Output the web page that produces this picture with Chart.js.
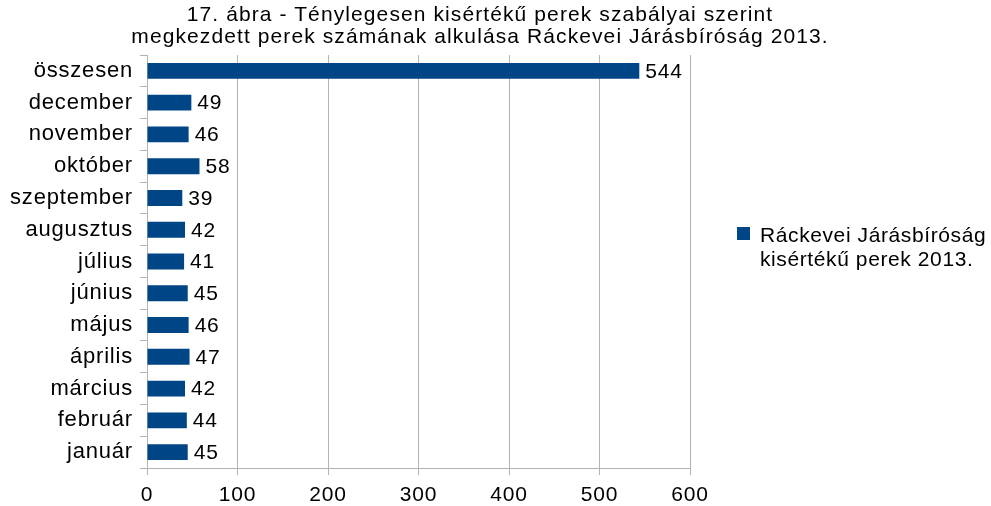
<!DOCTYPE html>
<html>
<head>
<meta charset="utf-8">
<script src="https://cdn.jsdelivr.net/npm/chart.js@4/dist/chart.umd.min.js"></script>
<style>
  body { margin: 0; background: #fff; font-family: "Liberation Sans", Arial, sans-serif; }
  #wrap { position: relative; width: 991px; height: 506px; }
  #title { position: absolute; left: 0; width: 960px; top: 3px; text-align: center; font-size: 21px; line-height: 22px; letter-spacing: 1.1px; color: #000; }
  #legend { position: absolute; left: 737px; top: 223px; font-size: 21px; line-height: 24px; letter-spacing: 0.6px; color: #000; }
  #legend .box { position: absolute; left: 0; top: 4px; width: 13px; height: 13px; background: #004586; }
  #legend .txt { margin-left: 23px; }
</style>
</head>
<body>
<div id="wrap">
  <canvas id="myChart" width="991" height="506"></canvas>
  <div id="title">17. ábra - Ténylegesen kisértékű perek szabályai szerint<br>megkezdett perek számának alkulása Ráckevei Járásbíróság 2013.</div>
  <div id="legend"><span class="box"></span><div class="txt">Ráckevei Járásbíróság<br>kisértékű perek 2013.</div></div>
</div>
<script>
const categories = ['összesen', 'december', 'november', 'október', 'szeptember', 'augusztus',
  'július', 'június', 'május', 'április', 'március', 'február', 'január'];
const seriesLabel = 'Ráckevei Járásbíróság kisértékű perek 2013.';
const values = [544, 49, 46, 58, 39, 42, 41, 45, 46, 47, 42, 44, 45];
const xTicks = [0, 100, 200, 300, 400, 500, 600];

const fontFamily = '"Liberation Sans", Arial, sans-serif';

// the original text is a bit wider than plain Liberation Sans
const spacing = {
  id: 'spacing',
  beforeInit(chart) { chart.ctx.letterSpacing = '0.8px'; },
  beforeDraw(chart) { chart.ctx.letterSpacing = '0.8px'; }
};

const valueLabels = {
  id: 'valueLabels',
  afterDatasetsDraw(chart) {
    const ctx = chart.ctx;
    const meta = chart.getDatasetMeta(0);
    ctx.save();
    ctx.font = '21px ' + fontFamily;
    ctx.fillStyle = '#000';
    ctx.textBaseline = 'middle';
    ctx.textAlign = 'left';
    meta.data.forEach((bar, i) => {
      ctx.fillText(String(values[i]), bar.x + 6, bar.y + 1);
    });
    ctx.restore();
  }
};

new Chart(document.getElementById('myChart'), {
  type: 'bar',
  data: {
    labels: categories,
    datasets: [{
      label: seriesLabel,
      data: values,
      backgroundColor: '#004586',
      borderWidth: 0,
      barPercentage: 0.5,
      categoryPercentage: 1.0
    }]
  },
  options: {
    indexAxis: 'y',
    responsive: false,
    animation: false,
    layout: { padding: { top: 55, right: 301, left: 0, bottom: 0 } },
    plugins: {
      legend: { display: false },
      title: { display: false },
      tooltip: { enabled: false }
    },
    scales: {
      x: {
        min: 0,
        max: 600,
        afterBuildTicks: (axis) => { axis.ticks = xTicks.map(v => ({ value: v })); },
        afterFit: (axis) => { axis.height = 38; },
        grid: { color: '#b3b3b3', tickLength: 7, lineWidth: 1 },
        border: { color: '#b3b3b3' },
        ticks: { color: '#000', padding: 9, font: { size: 21, lineHeight: 1.1, family: fontFamily } }
      },
      y: {
        afterFit: (axis) => { axis.width = 147; },
        grid: { drawOnChartArea: false, color: '#b3b3b3', tickLength: 7 },
        border: { color: '#b3b3b3' },
        ticks: { color: '#000', padding: 7, font: { size: 22, family: fontFamily } }
      }
    }
  },
  plugins: [spacing, valueLabels]
});
</script>
</body>
</html>
